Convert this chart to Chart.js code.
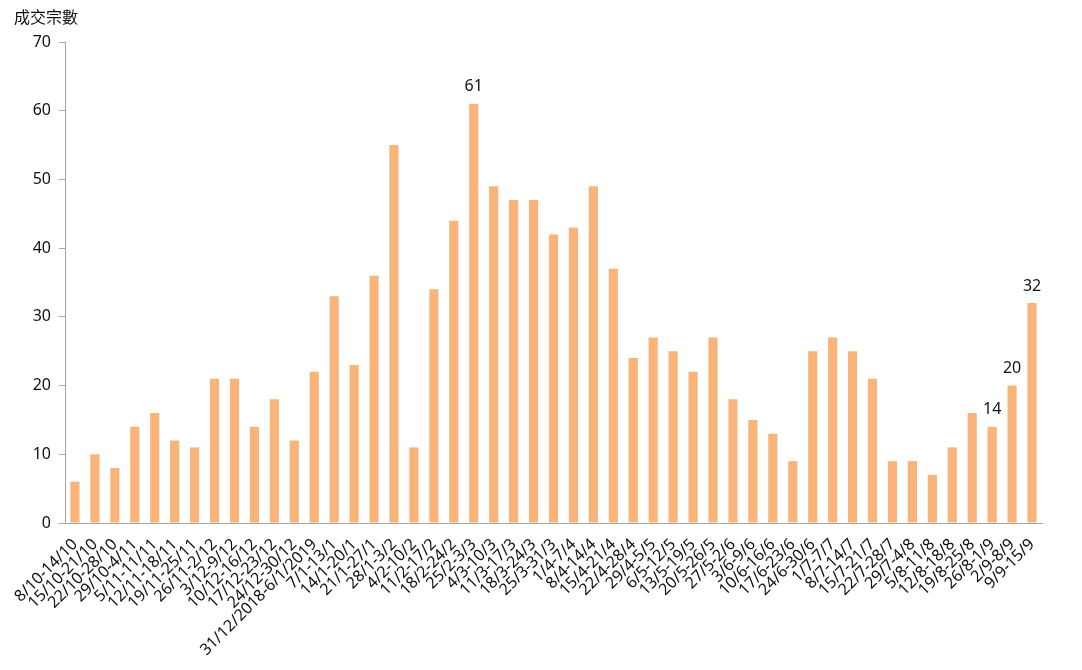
<!DOCTYPE html>
<html>
<head>
<meta charset="utf-8">
<script src="https://cdn.jsdelivr.net/npm/chart.js@4"></script>
<style>
  html, body { margin: 0; padding: 0; background: #fff; }
  #wrap { width: 1082px; height: 670px; position: relative; }
</style>
</head>
<body>
<div id="wrap"><canvas id="c"></canvas></div>
<script>
// weekly transaction counts
const weeks = [
  '8/10-14/10', '15/10-21/10', '22/10-28/10', '29/10-4/11', '5/11-11/11', '12/11-18/11', '19/11-25/11',
  '26/11-2/12', '3/12-9/12', '10/12-16/12', '17/12-23/12', '24/12-30/12', '31/12/2018-6/1/2019',
  '7/1-13/1', '14/1-20/1', '21/1-27/1', '28/1-3/2', '4/2-10/2', '11/2-17/2', '18/2-24/2', '25/2-3/3',
  '4/3-10/3', '11/3-17/3', '18/3-24/3', '25/3-31/3', '1/4-7/4', '8/4-14/4', '15/4-21/4', '22/4-28/4',
  '29/4-5/5', '6/5-12/5', '13/5-19/5', '20/5-26/5', '27/5-2/6', '3/6-9/6', '10/6-16/6', '17/6-23/6',
  '24/6-30/6', '1/7-7/7', '8/7-14/7', '15/7-21/7', '22/7-28/7', '29/7-4/8', '5/8-11/8', '12/8-18/8',
  '19/8-25/8', '26/8-1/9', '2/9-8/9', '9/9-15/9'
];
const deals = [
  6, 10, 8, 14, 16, 12, 11, 21, 21, 14, 18, 12, 22, 33, 23, 36, 55, 11, 34, 44,
  61, 49, 47, 47, 42, 43, 49, 37, 24, 27, 25, 22, 27, 18, 15, 13, 9, 25, 27, 25,
  21, 9, 9, 7, 11, 16, 14, 20, 32
];
const labelled = [20, 46, 47, 48]; // bars that carry a value label
const yTicks = [0, 10, 20, 30, 40, 50, 60, 70];

const FONT = "'Noto Sans', 'Noto Sans CJK TC', sans-serif";
const BAR = '#F9B47A';

const extras = {
  id: 'extras',
  afterDatasetsDraw(chart) {
    const { ctx } = chart;
    const meta = chart.getDatasetMeta(0);
    ctx.save();
    ctx.fillStyle = '#111';
    ctx.font = `16px ${FONT}`;
    ctx.textAlign = 'center';
    ctx.textBaseline = 'bottom';
    for (const i of labelled) {
      const bar = meta.data[i];
      ctx.fillText(String(deals[i]), bar.x, bar.y - 9);
    }
    ctx.textAlign = 'left';
    ctx.textBaseline = 'middle';
    ctx.font = `16px ${FONT}`;
    ctx.fillText('成交宗數', 14, 18);
    ctx.restore();
  }
};

new Chart(document.getElementById('c'), {
  type: 'bar',
  data: {
    labels: weeks,
    datasets: [{ data: deals, backgroundColor: BAR, barPercentage: 0.46, categoryPercentage: 1 }]
  },
  options: {
    responsive: true, maintainAspectRatio: false, animation: false,
    layout: { padding: { top: 42, right: 40, left: 0, bottom: 0 } },
    plugins: { legend: { display: false }, tooltip: { enabled: false } },
    scales: {
      x: {
        grid: { display: false },
        border: { color: '#A6A6A6', width: 1 },
        ticks: { autoSkip: false, maxRotation: 45, minRotation: 45, color: '#111', font: { family: FONT, size: 16 }, padding: 4 },
        afterFit: (s) => { s.height = 147; }
      },
      y: {
        min: 0, max: 70,
        afterBuildTicks: (s) => { s.ticks = yTicks.map((v) => ({ value: v })); },
        grid: { drawOnChartArea: false, drawTicks: true, tickLength: 6, color: '#A6A6A6' },
        border: { color: '#A6A6A6', width: 1 },
        ticks: { color: '#111', font: { family: FONT, size: 16 }, padding: 8 },
        afterFit: (s) => { s.width = 65; }
      }
    }
  },
  plugins: [extras]
});
</script>
</body>
</html>
